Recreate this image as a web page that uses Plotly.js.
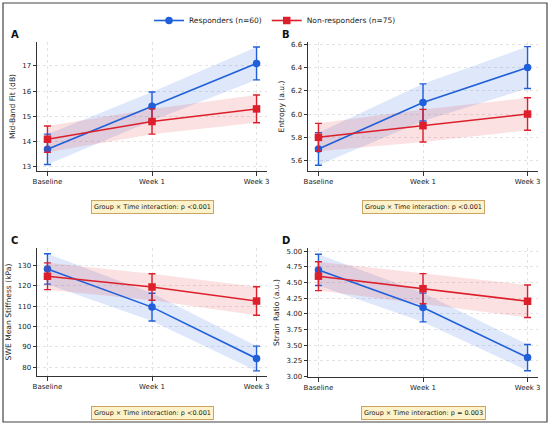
<!DOCTYPE html>
<html><head><meta charset="utf-8">
<script src="https://cdn.plot.ly/plotly-3.0.1.min.js"></script>
<style>html,body{margin:0;padding:0;background:#fff}#chart{width:550px;height:426px}</style>
</head><body><div id="chart"></div>
<script>
const timepoints = ["Baseline", "Week 1", "Week 3"];
const seriesNames = ["Responders (n=60)", "Non-responders (n=75)"];

// Panel A: Mid-Band Fit (dB)
const midbandResp = [13.7, 15.4, 17.1];
const midbandRespErr = [0.6, 0.57, 0.65];
const midbandNon = [14.1, 14.8, 15.3];
const midbandNonErr = [0.52, 0.5, 0.55];

// Panel B: Entropy (a.u.)
const entropyResp = [5.7, 6.1, 6.4];
const entropyRespErr = [0.14, 0.16, 0.18];
const entropyNon = [5.8, 5.9, 6.0];
const entropyNonErr = [0.12, 0.14, 0.14];

// Panel C: SWE Mean Stiffness (kPa)
const sweResp = [128.4, 109.6, 84.3];
const sweRespErr = [7.5, 6.8, 6.1];
const sweNon = [124.8, 119.5, 112.6];
const sweNonErr = [6.6, 6.5, 7.0];

// Panel D: Strain Ratio (a.u.)
const strainResp = [4.7, 4.1, 3.3];
const strainRespErr = [0.25, 0.23, 0.21];
const strainNon = [4.6, 4.4, 4.2];
const strainNonErr = [0.23, 0.24, 0.26];

const panelLetters = ["A", "B", "C", "D"];
const yTitles = ["Mid-Band Fit (dB)", "Entropy (a.u.)", "SWE Mean Stiffness (kPa)", "Strain Ratio (a.u.)"];
const pTexts = ["Group × Time interaction: p <0.001", "Group × Time interaction: p <0.001",
                "Group × Time interaction: p <0.001", "Group × Time interaction: p = 0.003"];
const yTicks = [[13,14,15,16,17],[5.6,5.8,6.0,6.2,6.4,6.6],[80,90,100,110,120,130],[3.0,3.25,3.5,3.75,4.0,4.25,4.5,4.75,5.0]];
const yFormats = ["d", ".1f", "d", ".2f"];
const yRanges = [[12.84,17.95],[5.51,6.62],[75.7,138.7],[2.99,5.05]];

const panels = [
  {r: midbandResp, re: midbandRespErr, n: midbandNon, ne: midbandNonErr},
  {r: entropyResp, re: entropyRespErr, n: entropyNon, ne: entropyNonErr},
  {r: sweResp, re: sweRespErr, n: sweNon, ne: sweNonErr},
  {r: strainResp, re: strainRespErr, n: strainNon, ne: strainNonErr}
];

const W = 550, H = 426;
const px = v => v / W, py = v => 1 - v / H;
const boxes = [
  {x0: 37, x1: 267, y0: 42, y1: 171},
  {x0: 308, x1: 538, y0: 42, y1: 171},
  {x0: 37, x1: 267, y0: 248, y1: 376},
  {x0: 308, x1: 538, y0: 248, y1: 377}
];

const BLUE = "#1f5fd9", RED = "#dc1f2b";
const BLUE_FILL = "rgba(31,95,217,0.14)", RED_FILL = "rgba(225,40,50,0.14)";
const xIdx = [0, 1, 2];

const traces = [];
const layout = {
  width: W, height: H, margin: {l: 0, r: 0, t: 0, b: 0},
  paper_bgcolor: "#fff", plot_bgcolor: "#fff",
  font: {family: "DejaVu Sans", size: 7, color: "#222"},
  showlegend: true,
  legend: {orientation: "h", x: 0.5, xanchor: "center", y: py(6), yanchor: "top",
           font: {size: 7.5, color: "#222"}, itemwidth: 30, traceorder: "normal"},
  annotations: [], shapes: []
};

panels.forEach((p, i) => {
  const k = i + 1;
  const xa = "x" + (k === 1 ? "" : k), ya = "y" + (k === 1 ? "" : k);
  const b = boxes[i];
  const groups = [
    {v: p.r, e: p.re, c: BLUE, f: BLUE_FILL, sym: "circle", name: seriesNames[0]},
    {v: p.n, e: p.ne, c: RED, f: RED_FILL, sym: "square", name: seriesNames[1]}
  ];
  groups.forEach((g, gi) => {
    const lo = g.v.map((v, j) => v - g.e[j]);
    const hi = g.v.map((v, j) => v + g.e[j]);
    traces.push({x: xIdx, y: lo, xaxis: xa, yaxis: ya, mode: "lines", line: {width: 0, color: g.f},
                 hoverinfo: "skip", showlegend: false});
    traces.push({x: xIdx, y: hi, xaxis: xa, yaxis: ya, mode: "lines", line: {width: 0, color: g.f},
                 fill: "tonexty", fillcolor: g.f, hoverinfo: "skip", showlegend: false});
  });
  groups.forEach((g, gi) => {
    traces.push({x: xIdx, y: g.v, xaxis: xa, yaxis: ya, mode: "lines+markers", name: g.name,
                 line: {color: g.c, width: 1.6},
                 marker: {symbol: g.sym, size: 7.5, color: g.c},
                 error_y: {type: "data", array: g.e, visible: true, color: g.c, thickness: 1.4, width: 3.5},
                 showlegend: i === 0, legendgroup: "g" + gi});
  });
  const axX = {
    domain: [px(b.x0), px(b.x1)], anchor: ya, range: [-0.1, 2.1],
    tickvals: xIdx, ticktext: timepoints, showline: true, linecolor: "#333", linewidth: 1,
    ticks: "outside", ticklen: 3.5, tickcolor: "#333", showgrid: true, gridcolor: "#dcdcdc",
    griddash: "dot", gridwidth: 0.8, zeroline: false, tickfont: {size: 7, color: "#222"}, fixedrange: true
  };
  const axY = {
    domain: [py(b.y1), py(b.y0)], anchor: xa, range: yRanges[i],
    tickvals: yTicks[i], tickformat: yFormats[i], showline: true, linecolor: "#333", linewidth: 1,
    ticks: "outside", ticklen: 3.5, tickcolor: "#333", showgrid: true, gridcolor: "#dcdcdc",
    griddash: "dot", gridwidth: 0.8, zeroline: false, tickfont: {size: 7, color: "#222"},
    title: {text: yTitles[i], font: {size: 7.6, color: "#222"}, standoff: 5}, fixedrange: true
  };
  layout["xaxis" + (k === 1 ? "" : k)] = axX;
  layout["yaxis" + (k === 1 ? "" : k)] = axY;

  layout.annotations.push({xref: "paper", yref: "paper", x: px(b.x0 - 28), y: py(b.y0 - 8),
    xanchor: "left", yanchor: "middle", text: "<b>" + panelLetters[i] + "</b>", showarrow: false,
    font: {size: 10, color: "#111"}});
  layout.annotations.push({xref: "paper", yref: "paper", x: px((b.x0 + b.x1) / 2),
    y: py(i < 2 ? 207 : 413), xanchor: "center", yanchor: "middle", text: pTexts[i], showarrow: false,
    font: {size: 6.5, color: "#222"}, bgcolor: "#fdf2c9", bordercolor: "#c9a464", borderwidth: 1, borderpad: 2});
});

layout.shapes.push({type: "rect", xref: "paper", yref: "paper", x0: px(3), x1: px(547), y0: py(422), y1: py(3),
  line: {color: "#444", width: 1.2}, fillcolor: "rgba(0,0,0,0)"});

Plotly.newPlot("chart", traces, layout, {displayModeBar: false, staticPlot: true});
</script></body></html>
